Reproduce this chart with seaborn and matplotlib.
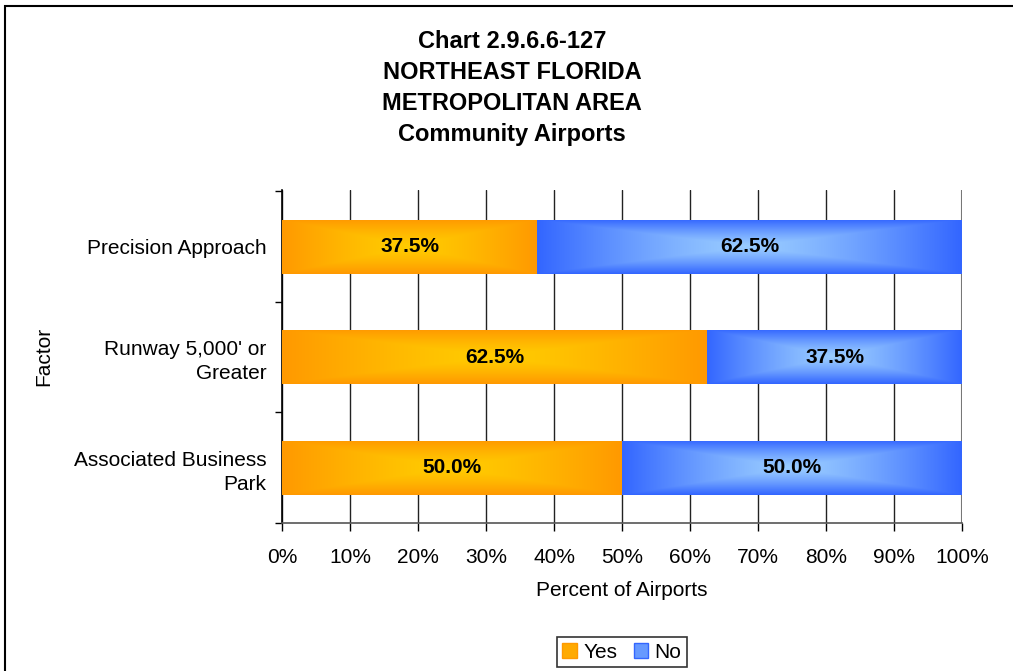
import numpy as np
import pandas as pd
import matplotlib
matplotlib.use("Agg")
import matplotlib.pyplot as plt
import matplotlib.colors as mcolors
from matplotlib.patches import Rectangle, Patch
import seaborn as sns

categories = ["Precision Approach", "Runway 5,000' or\nGreater", "Associated Business\nPark"]
yes_vals = [37.5, 62.5, 50.0]
no_vals = [62.5, 37.5, 50.0]
xticks = [0, 10, 20, 30, 40, 50, 60, 70, 80, 90, 100]
xtick_labels = [f"{t}%" for t in xticks]

df = pd.DataFrame({"Factor": categories, "Yes": yes_vals, "No": no_vals})
df["Total"] = df["Yes"] + df["No"]

sns.set_theme(style="white")
plt.rcParams["font.family"] = ["Liberation Sans", "DejaVu Sans"]
plt.rcParams["text.color"] = "black"
plt.rcParams["axes.labelcolor"] = "black"
plt.rcParams["xtick.color"] = "black"
plt.rcParams["ytick.color"] = "black"

fig = plt.figure(figsize=(10.13, 6.71), dpi=100)
ax = fig.add_axes([282 / 1013, 1 - 523 / 671, (962 - 282) / 1013, (523 - 190) / 671])

ORANGE_EDGE = np.array(mcolors.to_rgb("#FF9900"))
ORANGE_CENTER = np.array(mcolors.to_rgb("#FFCC00"))
BLUE_EDGE = np.array(mcolors.to_rgb("#3366FF"))
BLUE_CENTER = np.array(mcolors.to_rgb("#99CCFF"))

sns.barplot(data=df, x="Total", y="Factor", orient="h", color="#3366FF",
            width=0.49, ax=ax, zorder=3, linewidth=0)
sns.barplot(data=df, x="Yes", y="Factor", orient="h", color="#FF9900",
            width=0.49, ax=ax, zorder=3, linewidth=0)


def gradient_fill(patch, x_start, edge, center, zorder):
    x1 = patch.get_x() + patch.get_width()
    y0, h = patch.get_y(), patch.get_height()
    nx, ny = 300, 60
    u = np.linspace(-1, 1, nx)[None, :]
    v = np.linspace(-1, 1, ny)[:, None]
    t = np.maximum(np.abs(u), np.abs(v))
    t = np.clip(t, 0, 1) ** 1.3
    img = center[None, None, :] * (1 - t[..., None]) + edge[None, None, :] * t[..., None]
    im = ax.imshow(img, extent=[x_start, x1, y0 + h, y0], aspect="auto",
                   zorder=zorder, interpolation="bilinear")
    im.set_clip_path(patch)


n = len(categories)
patches = ax.patches
no_patches = patches[:n]
yes_patches = patches[n:2 * n]
for p, yp in zip(no_patches, yes_patches):
    gradient_fill(p, yp.get_x() + yp.get_width(), BLUE_EDGE, BLUE_CENTER, 3.5)
for p in yes_patches:
    gradient_fill(p, p.get_x(), ORANGE_EDGE, ORANGE_CENTER, 4)

for i in range(n):
    ax.text(yes_vals[i] / 2, i, f"{yes_vals[i]:.1f}%", ha="center", va="center",
            fontsize=15, fontweight="bold", color="black", zorder=6)
    ax.text(yes_vals[i] + no_vals[i] / 2, i, f"{no_vals[i]:.1f}%", ha="center", va="center",
            fontsize=15, fontweight="bold", color="black", zorder=6)

ax.set_xlim(0, 100)
ax.set_ylim(n - 0.523, -0.513)
ax.set_xticks(xticks)
ax.set_xticklabels(xtick_labels, fontsize=15)
ax.set_yticks(range(n))
ax.set_yticklabels(categories, fontsize=15)
for lab in ax.get_yticklabels():
    lab.set_linespacing(1.35)
ax.set_yticks([i - 0.5 for i in range(n + 1)], minor=True)
ax.tick_params(axis="y", which="major", length=0, pad=11)
ax.tick_params(axis="y", which="minor", length=5, width=1, color="black", left=True)
ax.tick_params(axis="x", which="major", length=6, width=1, color="black", bottom=True, pad=12)
ax.grid(False)
for xt in xticks[:-1]:
    ax.axvline(xt, color="#222222", lw=1, zorder=1)
ax.axvline(100, color="#777777", lw=1.5, zorder=1)

for s in ["top", "right"]:
    ax.spines[s].set_visible(False)
ax.spines["left"].set_color("black")
ax.spines["left"].set_linewidth(1.2)
ax.spines["bottom"].set_color("#555555")
ax.spines["bottom"].set_linewidth(1.2)

ax.set_xlabel("Percent of Airports", fontsize=15, labelpad=10)
ax.set_ylabel("Factor", fontsize=15)
ax.yaxis.set_label_coords(-0.337, 0.5)

fig.text(512 / 1013, 1 - 30 / 671,
         "Chart 2.9.6.6-127\nNORTHEAST FLORIDA\nMETROPOLITAN AREA\nCommunity Airports",
         ha="center", va="top", fontsize=17, fontweight="bold", linespacing=1.44, color="black")

handles = [Patch(facecolor="#FFAA00", edgecolor="#FF9900", label="Yes"),
           Patch(facecolor="#6699FF", edgecolor="#3366FF", label="No")]
leg = fig.legend(handles=handles, loc="center", bbox_to_anchor=(622 / 1013, 1 - 652 / 671),
                 ncol=2, fontsize=15, frameon=True, fancybox=False, edgecolor="black",
                 handlelength=0.7, handleheight=0.7, handletextpad=0.3, columnspacing=0.8,
                 borderpad=0.25, borderaxespad=0)
leg.get_frame().set_linewidth(1.2)

fig.patches.append(Rectangle((5 / 1013, -0.1), 1.2, 1 - 6 / 671 + 0.1, transform=fig.transFigure,
                             fill=False, edgecolor="black", lw=1.5, zorder=-1))

fig.savefig("out.png", dpi=100, facecolor="white")
